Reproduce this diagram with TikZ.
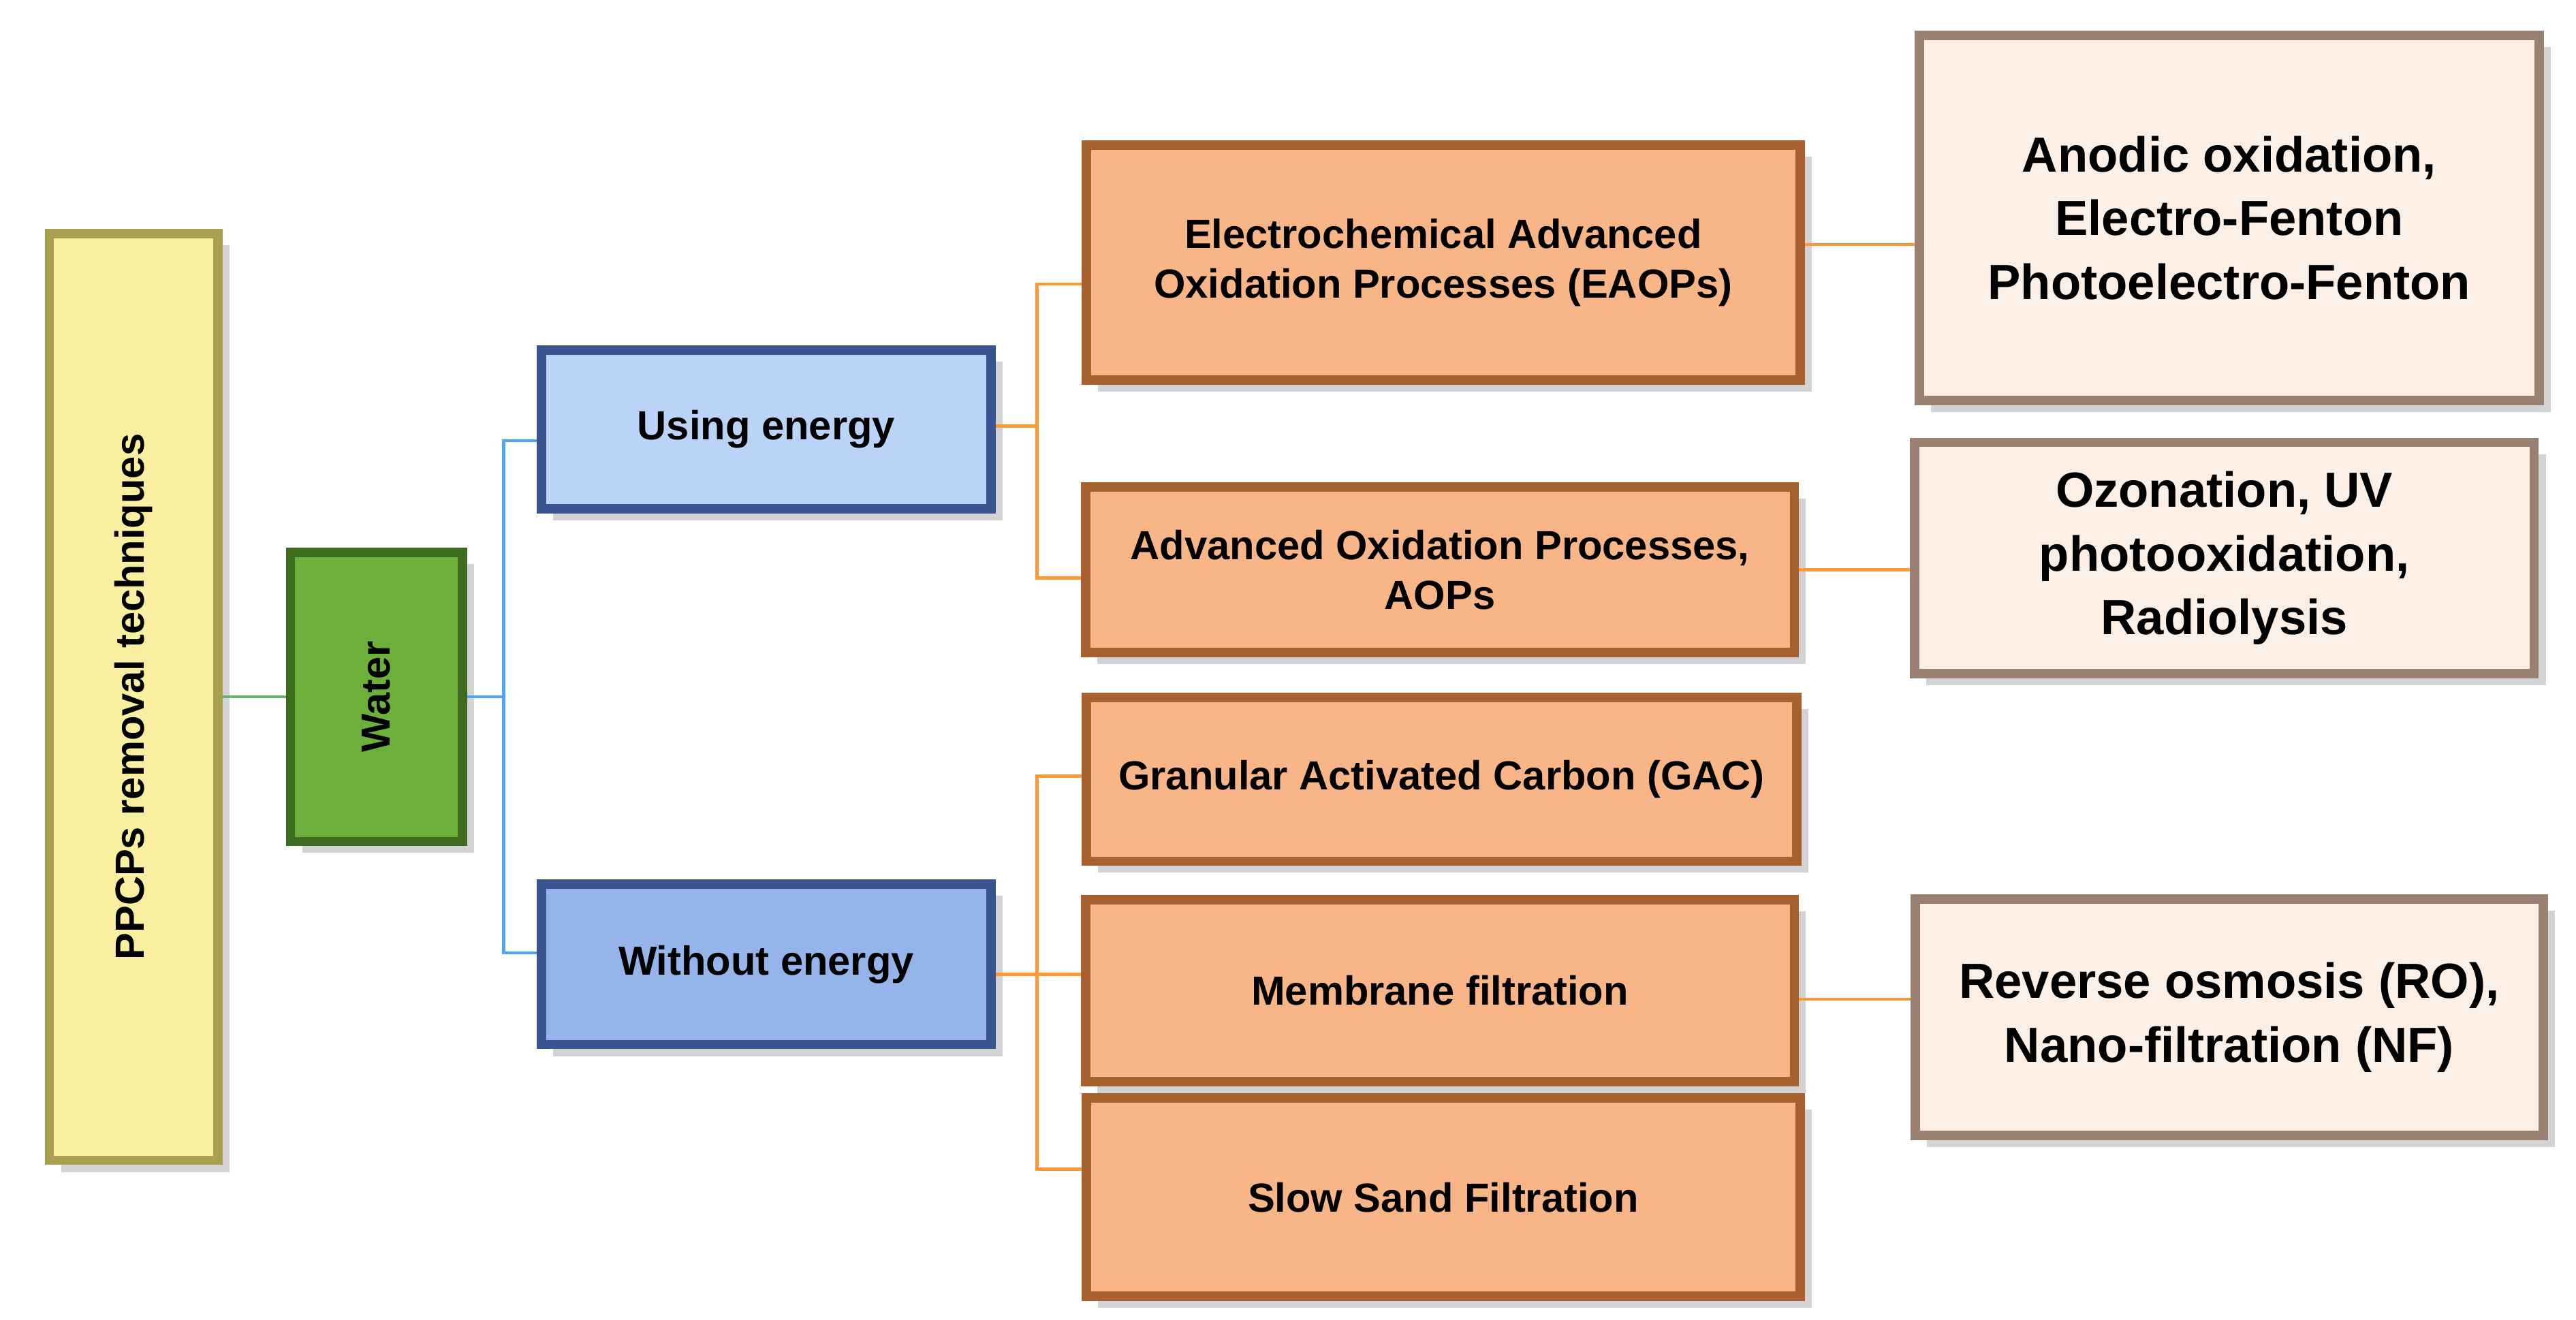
\documentclass[tikz,border=0pt]{standalone}
\usepackage{fontspec}
\setmainfont{Liberation Sans}
\usetikzlibrary{shadows}
\definecolor{yelB}{HTML}{A8A050}\definecolor{yelF}{HTML}{F8F0A0}
\definecolor{grnB}{HTML}{3E6B20}\definecolor{grnF}{HTML}{6CAF3A}
\definecolor{lbB}{HTML}{3A5490}\definecolor{lbF}{HTML}{BBD3F7}
\definecolor{dbB}{HTML}{3A5490}\definecolor{dbF}{HTML}{94B4EA}
\definecolor{orB}{HTML}{A8602E}\definecolor{orF}{HTML}{F7B588}
\definecolor{peB}{HTML}{9A8070}\definecolor{peF}{HTML}{FCEFE6}
\begin{document}
\begin{tikzpicture}[x=0.01cm,y=-0.01cm,
  box/.style={line width=1.6pt, inner sep=2pt, align=center,
     font=\bfseries\fontsize{7}{8.5}\selectfont, drop shadow={opacity=0.35,shadow xshift=2pt,shadow yshift=-2pt}},
  yel/.style={box, draw=yelB, fill=yelF},
  grn/.style={box, draw=grnB, fill=grnF},
  lblue/.style={box, draw=lbB, fill=lbF},
  dblue/.style={box, draw=dbB, fill=dbF},
  org/.style={box, draw=orB, fill=orF},
  peach/.style={box, draw=peB, fill=peF, font=\bfseries\fontsize{8.5}{11}\selectfont},
  gline/.style={draw=green!50!black!60, line width=0.5pt},
  bline/.style={draw=blue!50!cyan!70, line width=0.5pt},
  oline/.style={draw=orange!80, line width=0.5pt}]
\useasboundingbox (0,0) rectangle (1560,799);
\node[yel, minimum width=1.02cm, minimum height=5.61cm] (pp) at (81,422) {};
\node[rotate=90, font=\bfseries\fontsize{7}{8.5}\selectfont] (ppt) at (pp.center) {PPCPs removal techniques};
\node[grn, minimum width=1.04cm, minimum height=1.75cm] (w) at (228,422) {};
\node[rotate=90, font=\bfseries\fontsize{7}{8.5}\selectfont] (wt) at (w.center) {Water};
\node[lblue, minimum width=2.72cm, minimum height=0.96cm] (ue) at (464,260) {Using energy};
\node[dblue, minimum width=2.72cm, minimum height=0.97cm] (we) at (464,584) {Without energy};
\node[org, minimum width=4.32cm, minimum height=1.42cm] (ea) at (874,159) {Electrochemical Advanced\\Oxidation Processes (EAOPs)};
\node[org, minimum width=4.29cm, minimum height=1.0cm] (ao) at (872,345) {Advanced Oxidation Processes,\\AOPs};
\node[org, minimum width=4.30cm, minimum height=0.99cm] (gac) at (873,472) {Granular Activated Carbon (GAC)};
\node[org, minimum width=4.29cm, minimum height=1.10cm] (mf) at (872,600) {Membrane filtration};
\node[org, minimum width=4.32cm, minimum height=1.20cm] (ss) at (874,725) {Slow Sand Filtration};
\node[peach, minimum width=3.75cm, minimum height=2.21cm] (an) at (1350,132) {Anodic oxidation,\\Electro-Fenton\\Photoelectro-Fenton};
\node[peach, minimum width=3.75cm, minimum height=1.40cm] (oz) at (1347,338) {Ozonation, UV\\photooxidation,\\Radiolysis};
\node[peach, minimum width=3.80cm, minimum height=1.43cm] (ro) at (1350,616) {Reverse osmosis (RO),\\Nano-filtration (NF)};
\coordinate (j1) at (305,422);
\coordinate (j2) at (628,258);
\coordinate (j3) at (628,590);
\draw[gline] (pp.east |- 0,422) -- (w.west |- 0,422);
\draw[bline] (w.east |- j1) -- (j1);
\draw[bline] (ue.west |- 0,267) -| (j1) |- (we.west |- 0,577);
\draw[oline] (ue.east |- j2) -- (j2);
\draw[oline] (ea.west |- 0,172) -| (j2) |- (ao.west |- 0,350);
\draw[oline] (we.east |- j3) -- (mf.west |- j3);
\draw[oline] (gac.west |- 0,470) -| (j3) |- (ss.west |- 0,708);
\draw[oline] (ea.east |- 0,148) -- (an.west |- 0,148);
\draw[oline] (ao.east |- 0,345) -- (oz.west |- 0,345);
\draw[oline] (mf.east |- 0,605) -- (ro.west |- 0,605);
\end{tikzpicture}
\end{document}
